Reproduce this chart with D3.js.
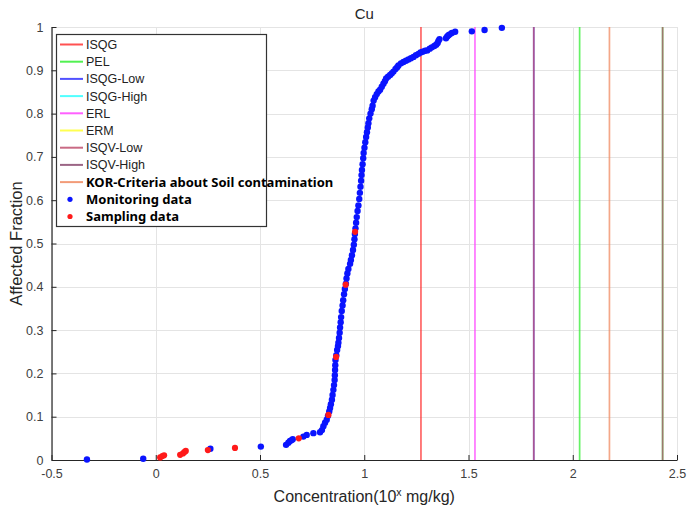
<!DOCTYPE html>
<html>
<head>
<meta charset="utf-8">
<script src="https://cdn.jsdelivr.net/npm/d3@7"></script>
<style>
  html, body { margin: 0; padding: 0; background: #fff; }
  svg { display: block; }
</style>
</head>
<body>
<svg id="chart" width="688" height="513"></svg>
<script>
// Cu: cumulative affected fraction vs log10 concentration (mg/kg)

// Monitoring data: [log10 concentration, affected fraction]
const monitoringData = [
  [-0.33, 0.001], [-0.06, 0.003], [0.262, 0.026], [0.504, 0.031],
  [0.625, 0.035], [0.636, 0.040], [0.644, 0.044], [0.652, 0.046], [0.657, 0.048],
  [0.708, 0.054], [0.724, 0.058], [0.756, 0.062], [0.788, 0.064], [0.797, 0.069],
  [0.804, 0.078], [0.812, 0.086], [0.820, 0.093], [0.826, 0.102], [0.832, 0.112],
  [0.836, 0.120], [0.840, 0.129], [0.845, 0.139], [0.848, 0.150], [0.852, 0.162],
  [0.855, 0.173], [0.858, 0.185], [0.859, 0.196], [0.860, 0.208], [0.861, 0.219],
  [0.862, 0.231], [0.866, 0.242], [0.870, 0.254], [0.874, 0.263], [0.876, 0.271],
  [0.879, 0.282], [0.882, 0.294], [0.884, 0.306], [0.887, 0.318], [0.889, 0.330],
  [0.892, 0.344], [0.896, 0.357], [0.899, 0.369], [0.903, 0.383], [0.907, 0.395],
  [0.912, 0.407], [0.915, 0.419], [0.919, 0.431], [0.924, 0.441], [0.932, 0.453],
  [0.936, 0.462], [0.941, 0.473], [0.946, 0.485], [0.950, 0.497], [0.953, 0.510],
  [0.955, 0.522], [0.958, 0.535], [0.961, 0.548], [0.964, 0.561], [0.968, 0.575],
  [0.972, 0.588], [0.976, 0.603], [0.979, 0.617], [0.982, 0.631], [0.985, 0.645],
  [0.987, 0.658], [0.989, 0.670], [0.992, 0.683], [0.995, 0.697], [0.997, 0.709],
  [1.001, 0.721], [1.005, 0.734], [1.009, 0.746], [1.013, 0.757], [1.017, 0.768],
  [1.020, 0.778], [1.024, 0.789], [1.030, 0.800], [1.036, 0.810], [1.040, 0.818],
  [1.045, 0.830], [1.052, 0.838], [1.060, 0.845], [1.068, 0.851], [1.076, 0.855],
  [1.084, 0.862], [1.092, 0.869], [1.099, 0.875], [1.105, 0.881], [1.114, 0.885],
  [1.124, 0.889], [1.132, 0.893], [1.140, 0.897], [1.150, 0.903], [1.158, 0.907],
  [1.164, 0.911], [1.176, 0.916], [1.188, 0.919], [1.200, 0.922], [1.212, 0.925],
  [1.224, 0.928], [1.236, 0.931], [1.248, 0.935], [1.260, 0.938], [1.270, 0.941],
  [1.280, 0.943], [1.292, 0.945], [1.302, 0.946], [1.314, 0.950], [1.324, 0.953],
  [1.336, 0.956], [1.345, 0.959], [1.352, 0.963], [1.356, 0.968], [1.361, 0.972],
  [1.392, 0.974], [1.398, 0.978], [1.404, 0.981], [1.410, 0.983], [1.420, 0.986],
  [1.436, 0.989], [1.516, 0.990], [1.577, 0.993], [1.660, 0.998]
];

// Sampling data: [log10 concentration, affected fraction]
const samplingData = [
  [0.021, 0.006], [0.032, 0.009], [0.040, 0.011], [0.117, 0.012], [0.130, 0.015],
  [0.137, 0.018], [0.144, 0.021], [0.250, 0.023], [0.380, 0.028], [0.686, 0.050],
  [0.828, 0.104], [0.865, 0.238], [0.911, 0.405], [0.956, 0.527]
];

// Sediment / soil quality criteria for Cu, log10(mg/kg)
const criteriaNames  = ["ISQG", "PEL", "ISQG-Low", "ISQG-High", "ERL", "ERM", "ISQV-Low", "ISQV-High", "KOR-Criteria about Soil contamination"];
const criteriaValues = [1.272, 2.033, 1.813, 2.431, 1.531, 2.431, 1.813, 2.431, 2.176];
const criteriaColors = ["#ff3333", "#33ee33", "#3333ff", "#33ffff", "#ff44ff", "#ffff33", "#c0506e", "#8a4a70", "#f08a60"];

const xTicks = [-0.5, 0, 0.5, 1, 1.5, 2, 2.5];
const xTickLabels = ["-0.5", "0", "0.5", "1", "1.5", "2", "2.5"];
const yTicks = [0, 0.1, 0.2, 0.3, 0.4, 0.5, 0.6, 0.7, 0.8, 0.9, 1];
const yTickLabels = ["0", "0.1", "0.2", "0.3", "0.4", "0.5", "0.6", "0.7", "0.8", "0.9", "1"];

const svg = d3.select("#chart");
const plot = { left: 51.5, right: 677, top: 27, bottom: 460 };

const x = d3.scaleLinear().domain([-0.5, 2.5]).range([plot.left, plot.right]);
const y = d3.scaleLinear().domain([0, 1]).range([plot.bottom, plot.top]);

const font = "'Liberation Sans', Arial, sans-serif";

// grid
const grid = svg.append("g").attr("stroke", "#e4e4e4").attr("stroke-width", 1);
grid.selectAll("line.gx").data(xTicks).join("line")
  .attr("x1", d => Math.round(x(d)) + 0.5).attr("x2", d => Math.round(x(d)) + 0.5)
  .attr("y1", plot.top).attr("y2", plot.bottom);
grid.selectAll("line.gy").data(yTicks).join("line")
  .attr("x1", plot.left).attr("x2", plot.right)
  .attr("y1", d => Math.round(y(d)) + 0.5).attr("y2", d => Math.round(y(d)) + 0.5);

// criteria lines
svg.append("g").selectAll("line").data(criteriaValues).join("line")
  .attr("x1", d => x(d)).attr("x2", d => x(d))
  .attr("y1", plot.top).attr("y2", plot.bottom)
  .attr("stroke", (d, i) => criteriaColors[i])
  .attr("stroke-width", 1.7)
  .attr("stroke-opacity", 0.75);

// axes (inward ticks)
const xAxis = d3.axisBottom(x).tickValues(xTicks).tickFormat((d, i) => xTickLabels[i])
  .tickSizeInner(-5).tickSizeOuter(0).tickPadding(9);
const yAxis = d3.axisLeft(y).tickValues(yTicks).tickFormat((d, i) => yTickLabels[i])
  .tickSizeInner(-5).tickSizeOuter(0).tickPadding(8);

const gx = svg.append("g").attr("transform", `translate(0,${plot.bottom})`).call(xAxis);
const gy = svg.append("g").attr("transform", `translate(${plot.left},0)`).call(yAxis);
[gx, gy].forEach(g => {
  g.select(".domain").attr("stroke", "#262626").attr("stroke-width", 1.2);
  g.selectAll(".tick line").attr("stroke", "#262626");
  g.selectAll(".tick text").attr("fill", "#404040").attr("font-family", font).attr("font-size", 12.5);
});

// points
svg.append("g").selectAll("circle").data(monitoringData).join("circle")
  .attr("cx", d => x(d[0])).attr("cy", d => y(d[1])).attr("r", 3.2)
  .attr("fill", "#0a14ff");
svg.append("g").selectAll("circle").data(samplingData).join("circle")
  .attr("cx", d => x(d[0])).attr("cy", d => y(d[1])).attr("r", 3.1)
  .attr("fill", "#ff1a1a");

// title and axis labels
svg.append("text").attr("x", x(1)).attr("y", 19).attr("text-anchor", "middle")
  .attr("font-family", font).attr("font-size", 15).attr("fill", "#262626").text("Cu");

const xl = svg.append("text").attr("x", x(1)).attr("y", 502).attr("text-anchor", "middle")
  .attr("font-family", font).attr("font-size", 16).attr("fill", "#262626");
xl.append("tspan").text("Concentration(10");
xl.append("tspan").attr("dy", -6).attr("font-size", 10.5).text("x");
xl.append("tspan").attr("dy", 6).text(" mg/kg)");

svg.append("text").attr("transform", `translate(22,${y(0.5)}) rotate(-90)`)
  .attr("text-anchor", "middle").attr("font-family", font).attr("font-size", 16.5)
  .attr("fill", "#262626").text("Affected Fraction");

// legend
const legend = svg.append("g");
legend.append("rect").attr("x", 56.5).attr("y", 34.5).attr("width", 210).attr("height", 192)
  .attr("fill", "#fff").attr("stroke", "#333").attr("stroke-width", 1.2);

const rowY = i => 44.5 + i * 17.2;
criteriaNames.forEach((name, i) => {
  legend.append("line").attr("x1", 60).attr("x2", 83).attr("y1", rowY(i)).attr("y2", rowY(i))
    .attr("stroke", criteriaColors[i]).attr("stroke-width", 2).attr("stroke-opacity", 0.85);
  const bold = i === criteriaNames.length - 1;
  legend.append("text").attr("x", 86).attr("y", rowY(i)).attr("dy", "0.36em")
    .attr("font-family", bold ? "'Noto Sans', sans-serif" : font)
    .attr("font-weight", bold ? "bold" : "normal")
    .attr("font-size", bold ? 13 : 12.5).attr("fill", bold ? "#000" : "#222").text(name);
});
const markerRows = [["Monitoring data", "#0a14ff"], ["Sampling data", "#ff1a1a"]];
markerRows.forEach(([name, color], j) => {
  const i = criteriaNames.length + j;
  legend.append("circle").attr("cx", 70).attr("cy", rowY(i)).attr("r", 2.6).attr("fill", color);
  legend.append("text").attr("x", 86).attr("y", rowY(i)).attr("dy", "0.36em")
    .attr("font-family", "'Noto Sans', sans-serif").attr("font-weight", "bold")
    .attr("font-size", 13).attr("fill", "#000").text(name);
});
</script>
</body>
</html>
